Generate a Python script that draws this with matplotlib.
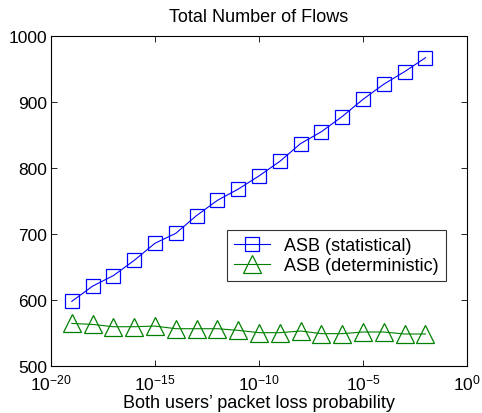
import numpy as np
import matplotlib
matplotlib.use("Agg")
import matplotlib.pyplot as plt
from matplotlib.ticker import FixedLocator, NullLocator, LogFormatterMathtext

plt.rcParams['font.family'] = ['Liberation Sans', 'DejaVu Sans']
plt.rcParams['mathtext.fontset'] = 'custom'
plt.rcParams['mathtext.rm'] = 'Liberation Sans'
plt.rcParams['mathtext.it'] = 'Liberation Sans'

exponents = list(range(-19, -1))
loss_prob = [10.0 ** e for e in exponents]
asb_statistical = [598, 621, 637, 660, 686, 701, 728, 751, 768, 788, 810, 837,
                   855, 878, 904, 927, 946, 967]
asb_deterministic = [564.5, 563, 559.5, 559.5, 560.5, 556.5, 556.5, 556.5, 554,
                     550.5, 550.5, 553, 549, 549, 551.5, 551.5, 548.5, 548.5]
x_ticks = [1e-20, 1e-15, 1e-10, 1e-5, 1e0]
y_ticks = [500, 600, 700, 800, 900, 1000]

fig = plt.figure(figsize=(4.82, 4.14), dpi=100)
ax = fig.add_axes([51 / 482, 1 - 367 / 414, 416 / 482, 330 / 414])

ax.plot(loss_prob, asb_statistical, color=(0, 0, 1), lw=0.8, marker='s',
        ms=9.5, mfc='none', mec=(0, 0, 1), mew=0.9, label='ASB (statistical)')
ax.plot(loss_prob, asb_deterministic, color=(0, 0.5, 0), lw=0.8, marker='^',
        ms=12.5, mfc='none', mec=(0, 0.5, 0), mew=0.9, label='ASB (deterministic)')

ax.set_xscale('log')
ax.set_xlim(1e-20, 1e0)
ax.set_ylim(500, 1000)
ax.xaxis.set_major_locator(FixedLocator(x_ticks))
ax.xaxis.set_minor_locator(NullLocator())
ax.xaxis.set_major_formatter(LogFormatterMathtext())
ax.set_yticks(y_ticks)
ax.tick_params(direction='in', top=True, right=True, labelsize=12.5, length=4,
               width=0.6)
ax.tick_params(axis='y', pad=3)
ax.tick_params(axis='x', pad=5)
for s in ax.spines.values():
    s.set_linewidth(0.8)

ax.set_title('Total Number of Flows', fontsize=13, pad=11)
ax.set_xlabel("Both users’ packet loss probability", fontsize=13, labelpad=1)

leg = ax.legend(loc='upper left', bbox_to_anchor=((227 - 51) / 416, (367 - 231) / 330),
                fontsize=13, frameon=True, fancybox=False, edgecolor='black',
                borderpad=0.4, handlelength=2.0, handletextpad=0.75,
                labelspacing=0.15, borderaxespad=0)
leg.get_frame().set_linewidth(0.8)

fig.savefig('out.png', dpi=100)
